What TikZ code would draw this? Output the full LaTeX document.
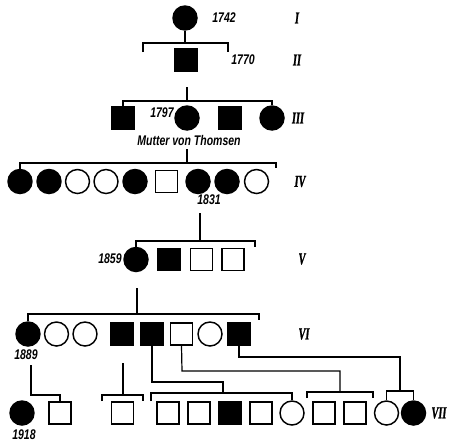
\documentclass[tikz,border=0pt]{standalone}
\usepackage{fontspec}
\usepackage{tikz}
\newfontfamily\yearfont{Liberation Sans}[FakeStretch=0.75]
\newfontfamily\genfont{Liberation Serif Bold Italic}[FakeStretch=0.62, FakeBold=1.2]

\begin{document}
\begin{tikzpicture}[x=0.75pt, y=-0.75pt, line width=0.9pt,
    femaleaff/.style={circle, draw, line width=1.1pt, fill=black, minimum size=18pt, inner sep=0pt},
    femalenode/.style={circle, draw, line width=1.1pt, fill=white, minimum size=18pt, inner sep=0pt},
    maleaff/.style={rectangle, draw, line width=1.1pt, fill=black, minimum size=16.5pt, inner sep=0pt},
    malenode/.style={rectangle, draw, line width=1.1pt, fill=white, minimum size=16.5pt, inner sep=0pt},
    yearlabel/.style={font=\yearfont\bfseries\itshape\fontsize{10.5}{12}\selectfont, inner sep=0pt},
    genlabel/.style={font=\genfont\fontsize{12.5}{14}\selectfont, inner sep=0pt}
]
\useasboundingbox (0,0) rectangle (449,446);

% generation I
\node[femaleaff](i1) at (185,18){};
\node[yearlabel](y1742) at (224,18){1742};
\node[genlabel](gI) at (297,18){I};

% generation II
\node[maleaff](ii1) at (186,60){};
\node[yearlabel](y1770) at (243,60){1770};
\node[genlabel](gII) at (297,60){II};
\coordinate (b2) at (185,43);
\draw (i1.south) -- (b2);
\draw (143,52) -- (143,43) -- (228,43) -- (228,52);

% generation III
\node[maleaff](iii1) at (123,118){};
\node[femaleaff](iii2) at (187,118){};
\node[maleaff](iii3) at (230,118){};
\node[femaleaff](iii4) at (272,118){};
\node[yearlabel](y1797) at (162,113){1797};
\node[yearlabel](mutter) at (189,140){Mutter von Thomsen};
\node[genlabel](gIII) at (298,118){III};
\coordinate (d2) at (187,87);
\coordinate (b3) at (187,101);
\draw (d2) -- (b3);
\draw (iii1.north) -- (123,101) -- (272,101) -- (iii4.north);

% generation IV
\node[femaleaff](iv1) at (20,181.5){};
\node[femaleaff](iv2) at (49,181.5){};
\node[femalenode](iv3) at (77.5,181.5){};
\node[femalenode](iv4) at (106,181.5){};
\node[femaleaff](iv5) at (135,181.5){};
\node[malenode](iv6) at (166.5,181.5){};
\node[femaleaff](iv7) at (198,181.5){};
\node[femaleaff](iv8) at (227,181.5){};
\node[femalenode](iv9) at (256.5,181.5){};
\node[yearlabel](y1831) at (209,200){1831};
\node[genlabel](gIV) at (300,181.5){IV};
\coordinate (d3) at (187,149);
\coordinate (b4) at (187,163);
\draw (d3) -- (b4);
\draw (iv1.north) -- (20,163) -- (276,163) -- (276,168);

% generation V
\node[femaleaff](v1) at (136,259.5){};
\node[maleaff](v2) at (169,259.5){};
\node[malenode](v3) at (201.5,259.5){};
\node[malenode](v4) at (233,259.5){};
\node[yearlabel](y1859) at (110,259){1859};
\node[genlabel](gV) at (302,259){V};
\coordinate (d4) at (200,213);
\coordinate (b5) at (200,241);
\draw (d4) -- (b5);
\draw (v1.north) -- (136,241) -- (255,241) -- (255,247);

% generation VI
\node[femaleaff](vi1) at (28,334){};
\node[femalenode](vi2) at (56.5,334){};
\node[femalenode](vi3) at (85,334){};
\node[maleaff](vi4) at (122,334){};
\node[maleaff](vi5) at (152,334){};
\node[malenode](vi6) at (181.5,334){};
\node[femalenode](vi7) at (210,334){};
\node[maleaff](vi8) at (239,334){};
\node[yearlabel](y1889) at (26,355){1889};
\node[genlabel](gVI) at (304,334){VI};
\coordinate (d5) at (137,288);
\coordinate (b6) at (137,314);
\draw (d5) -- (b6);
\draw (vi1.north) -- (28,314) -- (259,314) -- (259,320);

% generation VII
\node[femaleaff](vii1) at (22,413){};
\node[malenode](vii2) at (60,413){};
\node[malenode](vii3) at (122.5,413){};
\node[malenode](vii4) at (168,413){};
\node[malenode](vii5) at (199,413){};
\node[maleaff](vii6) at (230,413){};
\node[malenode](vii7) at (261,413){};
\node[femalenode](vii8) at (292,413){};
\node[malenode](vii9) at (324,413){};
\node[malenode](vii10) at (355,413){};
\node[femalenode](vii11) at (386.5,413){};
\node[femaleaff](vii12) at (413.5,413){};
\node[yearlabel](y1918) at (24,435){1918};
\node[genlabel, anchor=east](gVII) at (447,413){VII};

% descent lines VI -> VII
\coordinate (d6a) at (31,365);
\draw (d6a) -- (31,395) -- (60,395) -- (vii2.north);
\coordinate (d6b) at (123,363);
\draw (d6b) -- (123,395);
\draw (102,401) -- (102,395) -- (143,395) -- (143,401);
\draw (vi5.south) -- (152,382) -- (223,382) -- (223,393);
\draw (151,401) -- (151,393) -- (292,393) -- (vii8.north);
\draw (vi6.south) -- (182,371) -- (340,371) -- (340,392);
\draw (307,398) -- (307,392) -- (373,392) -- (373,398);
\draw (vi8.south) -- (239,357) -- (400,357) -- (400,391);
\draw (vii11.north) -- (386.5,391) -- (413.5,391) -- (vii12.north);
\end{tikzpicture}
\end{document}
